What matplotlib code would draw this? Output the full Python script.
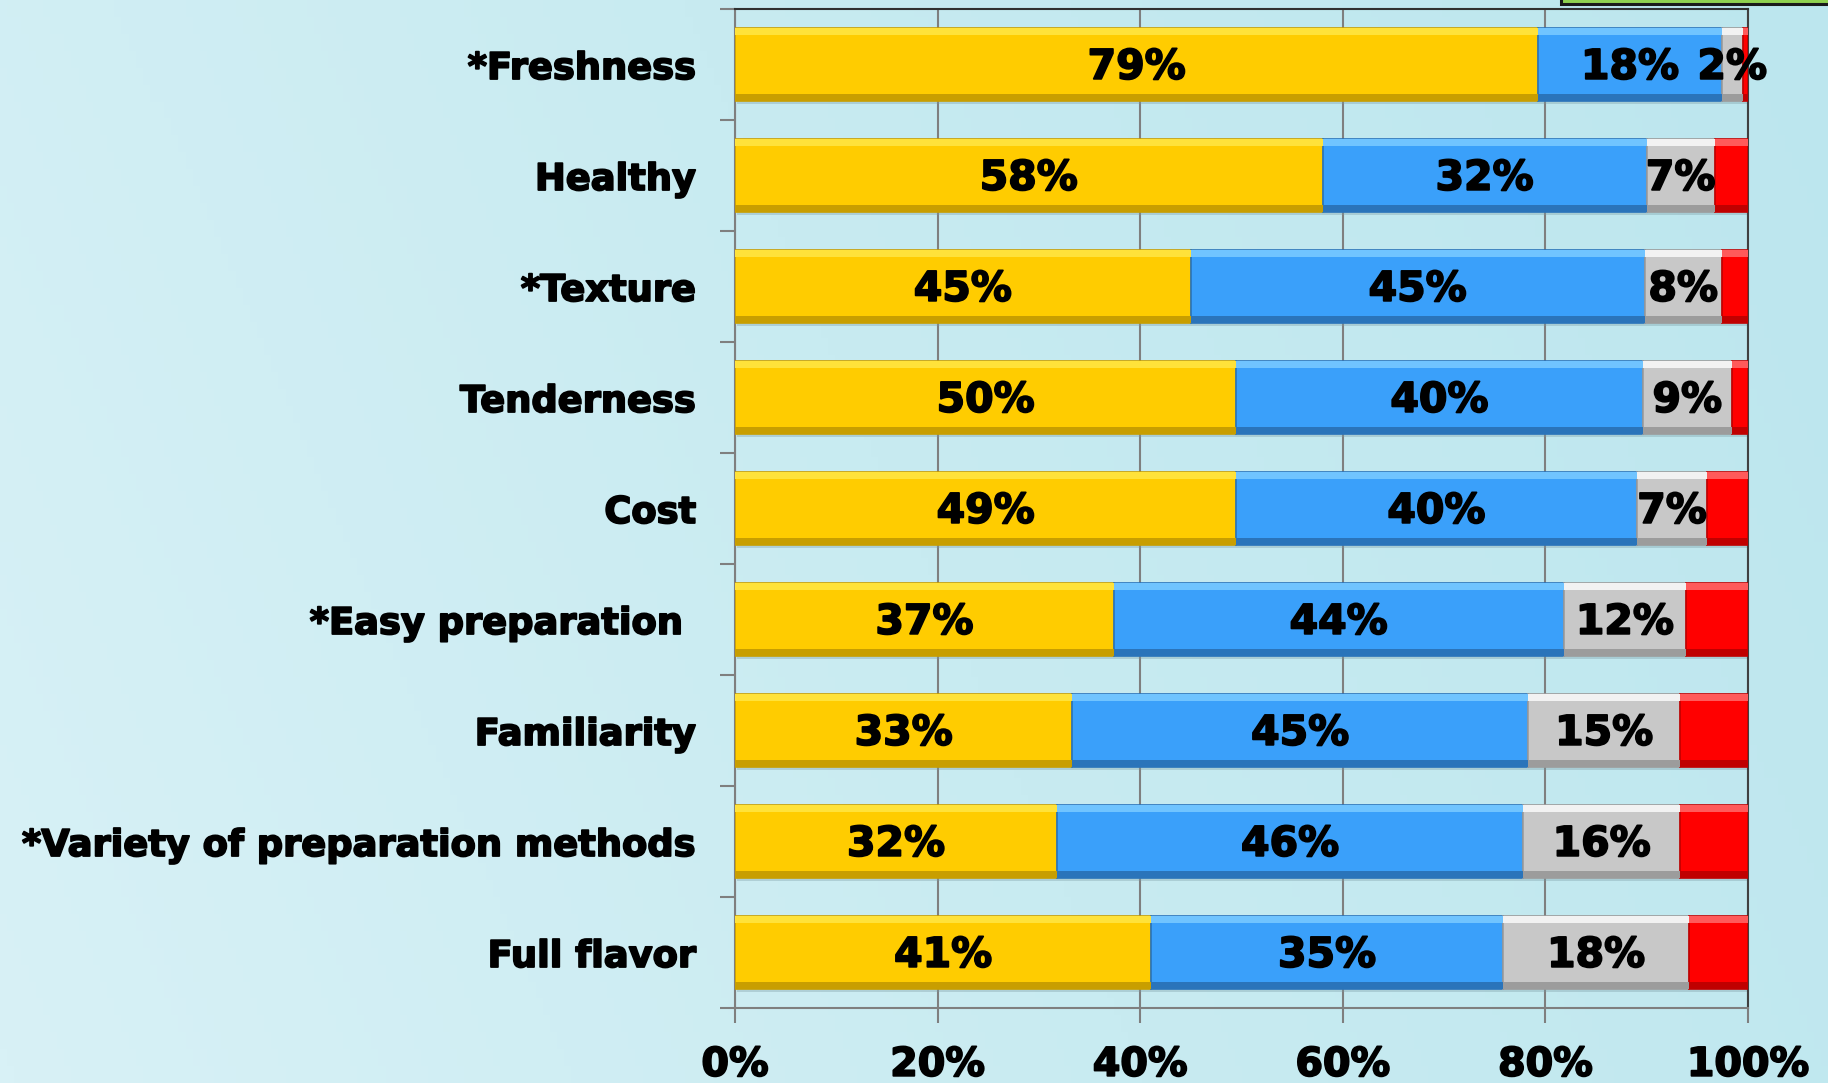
import numpy as np
import matplotlib
matplotlib.use("Agg")
import matplotlib.pyplot as plt
import matplotlib.patheffects as pe
from matplotlib.patches import Rectangle
from matplotlib.colors import LinearSegmentedColormap

# ---- data (top to bottom as shown) ----
categories = ["*Freshness", "Healthy", "*Texture", "Tenderness", "Cost",
              "*Easy preparation ", "Familiarity",
              "*Variety of preparation methods", "Full flavor"]
very_important = [79.3, 58.0, 45.0, 49.5, 49.5, 37.4, 33.3, 31.8, 41.1]
important      = [18.1, 32.0, 44.8, 40.1, 39.5, 44.4, 45.0, 46.0, 34.7]
somewhat       = [2.1, 6.7, 7.6, 8.8, 7.0, 12.1, 15.0, 15.5, 18.4]
not_important  = [0.5, 3.3, 2.6, 1.6, 4.0, 6.1, 6.7, 6.7, 5.8]
labels_very    = ["79%", "58%", "45%", "50%", "49%", "37%", "33%", "32%", "41%"]
labels_imp     = ["18%", "32%", "45%", "40%", "40%", "44%", "45%", "46%", "35%"]
labels_some    = ["2%", "7%", "8%", "9%", "7%", "12%", "15%", "16%", "18%"]
x_ticks = [0, 20, 40, 60, 80, 100]
x_ticklabels = ["0%", "20%", "40%", "60%", "80%", "100%"]

series = [very_important, important, somewhat, not_important]
series_labels = [labels_very, labels_imp, labels_some, None]
main_colors = ["#FFCC00", "#3AA0FA", "#C8C8C8", "#FF0000"]
top_colors = ["#FFE23A", "#70C4FF", "#F2F2F2", "#FF5A5A"]
bot_colors = ["#C89E00", "#2A74BA", "#9C9C9C", "#C00000"]

W, H = 1828, 1083
fig = plt.figure(figsize=(W / 100, H / 100), dpi=100)

# background gradient
bg = fig.add_axes([0, 0, 1, 1], zorder=-10)
bg.set_axis_off()
cmap = LinearSegmentedColormap.from_list("bg", ["#D8F1F6", "#C8EBF1", "#BCE6EE"])
gx = np.linspace(0, 1, 256)
gy = np.linspace(0, 1, 64)
grad = 0.8 * gx[None, :] + 0.2 * gy[:, None]
bg.imshow(grad, aspect="auto", cmap=cmap, extent=[0, 1, 0, 1], origin="lower")

# green box at top right (cut-off legend frame)
fig.patches.append(Rectangle((1561 / W, 1 - 4 / H), 0.3, 0.05, transform=fig.transFigure,
                             facecolor="#8FD14F", edgecolor="#1A1A1A", lw=2.2, zorder=5))

ax = fig.add_axes([735 / W, 1 - 1008 / H, (1748 - 735) / W, (1008 - 9) / H])
ax.set_facecolor("none")

bold_fx = [pe.withStroke(linewidth=1.3, foreground="black")]

n = len(categories)
ypos = np.arange(n)[::-1]
bh = 0.66
strip = 0.06

left = np.zeros(n)
for vals, labs, mc, tc, bc in zip(series, series_labels, main_colors, top_colors, bot_colors):
    vals = np.array(vals)
    # shadow
    ax.barh(ypos - 0.025, vals, left=left + 0.15, height=bh, color="#7A9AA3", alpha=0.35, zorder=2, lw=0)
    ax.barh(ypos, vals, left=left, height=bh, color=mc, edgecolor=bc, lw=1.2, zorder=3)
    ax.barh(ypos + bh / 2 - strip / 2, vals, left=left, height=strip, color=tc, lw=0, zorder=4)
    ax.barh(ypos - bh / 2 + strip / 2, vals, left=left, height=strip, color=bc, lw=0, zorder=4)
    if labs is not None:
        for y, l, v, t in zip(ypos, left, vals, labs):
            ax.text(l + v / 2, y - 0.03, t, ha="center", va="center", fontsize=29.5,
                    fontweight="bold", color="black", zorder=6, family="DejaVu Sans",
                    path_effects=bold_fx)
    left = left + vals

ax.set_xlim(0, 100)
ax.set_ylim(-0.5, n - 0.5)
ax.set_xticks(x_ticks)
ax.set_xticklabels(x_ticklabels, fontsize=28.5, fontweight="bold")
ax.set_yticks(ypos)
ax.set_yticklabels(categories, fontsize=26.5, fontweight="bold")
for t in ax.get_xticklabels() + ax.get_yticklabels():
    t.set_path_effects(bold_fx)
ax.set_yticks(np.arange(-0.5, n, 1.0), minor=True)
ax.tick_params(axis="y", which="major", length=0, pad=28)
ax.tick_params(axis="y", which="minor", length=10.5, width=1.5, color="#7F7F7F", direction="out")
ax.tick_params(axis="x", which="major", length=10.5, width=1.5, color="#7F7F7F", direction="out", pad=16)
ax.xaxis.grid(True, color="#7F7F7F", lw=1.5, zorder=1)
ax.set_axisbelow(True)
for s in ax.spines.values():
    s.set_color("#7F7F7F")
    s.set_linewidth(1.5)
ax.spines["top"].set_color("#303030")
ax.spines["right"].set_color("#404040")

fig.savefig("out.png", dpi=100)
